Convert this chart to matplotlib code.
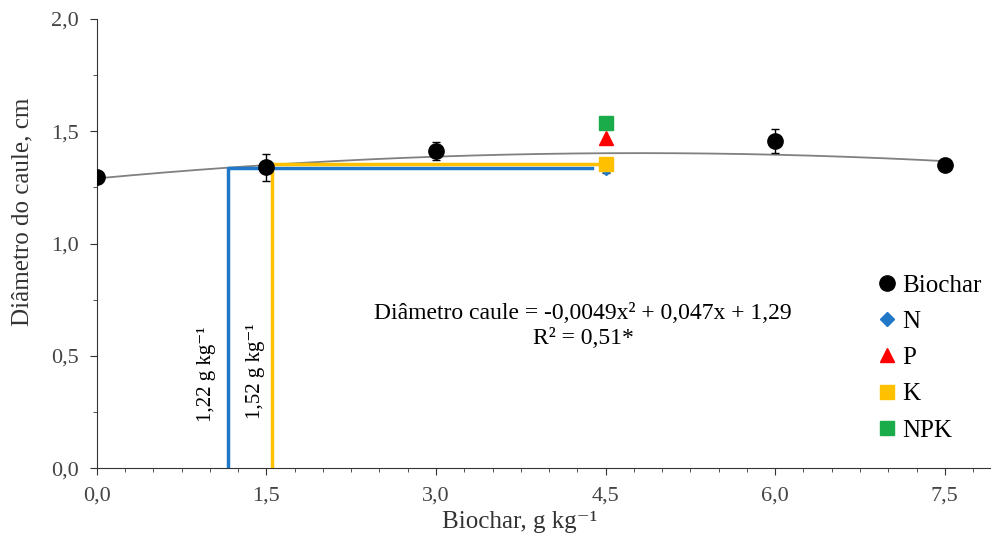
import matplotlib
matplotlib.use("Agg")
import matplotlib.pyplot as plt
import numpy as np
from matplotlib.ticker import MultipleLocator, FuncFormatter
from matplotlib.lines import Line2D

plt.rcParams['font.family'] = ['Liberation Serif', 'DejaVu Serif']

# data
dose = [0.0, 1.5, 3.0, 6.0, 7.5]
diam = [1.296, 1.34, 1.41, 1.457, 1.35]
diam_err = [0.015, 0.06, 0.04, 0.055, 0.02]

x_fert = 4.5
n_val, n_err = 1.33, 0.015
p_val = 1.47
k_val = 1.354
npk_val = 1.537

# regression coefficients
a, b, c = -0.0049, 0.047, 1.29

# critical doses (blue = N, orange = K)
x_blue, x_orange = 1.16, 1.55
y_blue, y_orange = 1.337, 1.355

blue = '#1f78c8'
orange = '#ffc000'
red = '#ff0000'
green = '#1aab4b'

fig = plt.figure(figsize=(9.98, 5.43), dpi=100)
ax = fig.add_axes([0.097, 0.138, 0.895, 0.827])

xs = np.linspace(0, 7.5, 200)
ax.plot(xs, a * xs**2 + b * xs + c, color='#808080', lw=1.3, zorder=2)

ax.plot([x_blue, x_blue, 4.38], [0, y_blue, y_blue], color=blue, lw=2.5, zorder=3)
ax.plot([x_orange, x_orange, 4.45], [0, y_orange, y_orange], color=orange, lw=2.5, zorder=3)

ax.errorbar(dose, diam, yerr=diam_err, fmt='o', color='black', ms=11,
            ecolor='black', elinewidth=1, capsize=3, zorder=5)
ax.errorbar([x_fert], [n_val], yerr=[n_err], fmt='D', color=blue, ms=6,
            ecolor='#333333', elinewidth=1, capsize=3, zorder=4)
ax.plot([x_fert], [p_val], '^', color=red, ms=10, zorder=5)
ax.plot([x_fert], [k_val], 's', color=orange, ms=10, zorder=5)
ax.plot([x_fert], [npk_val], 's', color=green, ms=10, zorder=5)

ax.text(0.97, 0.42, '1,22 g kg⁻¹', rotation=90, fontsize=15,
        ha='center', va='center')
ax.text(1.40, 0.43, '1,52 g kg⁻¹', rotation=90, fontsize=15,
        ha='center', va='center')

ax.text(4.3, 0.69, 'Diâmetro caule = -0,0049x² + 0,047x + 1,29',
        fontsize=17, ha='center', va='center')
ax.text(4.3, 0.575, 'R² = 0,51*', fontsize=17, ha='center', va='center')

ax.set_xlim(0, 7.9)
ax.set_ylim(0, 2.0)
ax.xaxis.set_major_locator(MultipleLocator(1.5))
ax.xaxis.set_minor_locator(MultipleLocator(0.25))
ax.yaxis.set_major_locator(MultipleLocator(0.5))
ax.yaxis.set_minor_locator(MultipleLocator(0.25))
fmt = FuncFormatter(lambda v, p: f'{v:.1f}'.replace('.', ','))
ax.xaxis.set_major_formatter(fmt)
ax.yaxis.set_major_formatter(fmt)
ax.tick_params(which='major', length=5, labelsize=16, colors='#333333',
               labelcolor='#444444', pad=8)
ax.tick_params(which='minor', length=3, colors='#333333')
ax.spines['top'].set_visible(False)
ax.spines['right'].set_visible(False)
for s in ['left', 'bottom']:
    ax.spines[s].set_color('#333333')

ax.set_xlabel('Biochar, g kg⁻¹', fontsize=18, color='#333333')
ax.set_ylabel('Diâmetro do caule, cm', fontsize=18, color='#333333')
ax.xaxis.set_label_coords(0.473, -0.095)
ax.yaxis.set_label_coords(-0.071, 0.57)

handles = [
    Line2D([], [], ls='none', marker='o', color='black', ms=11),
    Line2D([], [], ls='none', marker='D', color=blue, ms=7),
    Line2D([], [], ls='none', marker='^', color=red, ms=10),
    Line2D([], [], ls='none', marker='s', color=orange, ms=10),
    Line2D([], [], ls='none', marker='s', color=green, ms=10),
]
labels = ['Biochar', 'N', 'P', 'K', 'NPK']
ax.legend(handles, labels, loc='lower right', bbox_to_anchor=(1.01, 0.02),
          frameon=False, fontsize=18, handletextpad=0.0, labelspacing=0.55,
          handlelength=1.2, borderpad=0.2)

fig.savefig('out.png', dpi=100)
